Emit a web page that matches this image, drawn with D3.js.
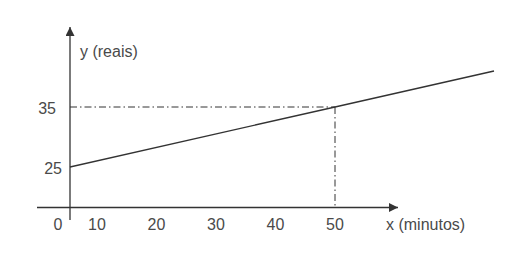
<!DOCTYPE html>
<html>
<head>
<meta charset="utf-8">
<script src="https://cdn.jsdelivr.net/npm/d3@7"></script>
<style>
  body { margin: 0; background: #fff; }
  text { font-family: Arial, "Liberation Sans", sans-serif; fill: #4a4a4a; }
</style>
</head>
<body>
<div id="chart"></div>
<script>
// data
const lineX = [0, 50, 80];          // minutos
const lineY = [25, 35, 41];         // reais
const markX = 50;
const markY = 35;
const xTicks = [10, 20, 30, 40, 50];
const yTicks = [25, 35];
const xTitle = 'x (minutos)';
const yTitle = 'y (reais)';

const width = 529, height = 278;
const ink = '#333';
const fontSize = 16;

const svg = d3.select('#chart').append('svg')
    .attr('width', width)
    .attr('height', height);

// line scale: origin sits on the y axis
let x = d3.scaleLinear().domain([0, 50]).range([70, 335]);
let y = d3.scaleLinear().domain([25, 35]).range([167, 107]);
// tick labels are spaced on their own in the drawing
let xLabel = d3.scaleLinear().domain([10, 50]).range([97, 335]);

const axisY = 207.5;

// arrow head marker
svg.append('defs').append('marker')
    .attr('id', 'arrow')
    .attr('viewBox', '0 0 10 10')
    .attr('refX', 10)
    .attr('refY', 5)
    .attr('markerWidth', 10)
    .attr('markerHeight', 9)
    .attr('markerUnits', 'userSpaceOnUse')
    .attr('orient', 'auto')
  .append('path')
    .attr('d', 'M0,0L10,5L0,10Z')
    .attr('fill', ink);

// x axis
svg.append('line')
    .attr('x1', 37).attr('x2', 398)
    .attr('y1', axisY).attr('y2', axisY)
    .attr('stroke', ink).attr('stroke-width', 1.3)
    .attr('marker-end', 'url(#arrow)');

// y axis
svg.append('line')
    .attr('x1', x(0)).attr('x2', x(0))
    .attr('y1', 220).attr('y2', 27)
    .attr('stroke', ink).attr('stroke-width', 1.3)
    .attr('marker-end', 'url(#arrow)');

// guide lines to the marked point
const dashDot = '7,3,1.5,3';
svg.append('line')
    .attr('x1', x(0)).attr('x2', x(markX))
    .attr('y1', y(markY)).attr('y2', y(markY))
    .attr('stroke', ink).attr('stroke-width', 1)
    .attr('stroke-dasharray', dashDot);
svg.append('line')
    .attr('x1', x(markX)).attr('x2', x(markX))
    .attr('y1', y(markY)).attr('y2', axisY)
    .attr('stroke', ink).attr('stroke-width', 1)
    .attr('stroke-dasharray', dashDot);

// the line itself
const line = d3.line()
    .x((d, i) => x(lineX[i]))
    .y((d, i) => y(lineY[i]));
svg.append('path')
    .datum(lineX)
    .attr('d', line)
    .attr('fill', 'none')
    .attr('stroke', ink)
    .attr('stroke-width', 1.4);

// tick labels
svg.selectAll('.xl')
    .data(xTicks)
    .enter().append('text')
    .attr('x', d => xLabel(d))
    .attr('y', 230)
    .attr('text-anchor', 'middle')
    .attr('font-size', fontSize)
    .text(d => d);

svg.append('text')
    .attr('x', 58).attr('y', 230)
    .attr('text-anchor', 'middle')
    .attr('font-size', fontSize)
    .text('0');

const yLabelRight = { 25: 62, 35: 56 };
svg.selectAll('.yl')
    .data(yTicks)
    .enter().append('text')
    .attr('x', d => yLabelRight[d])
    .attr('y', d => y(d) + 6.5)
    .attr('text-anchor', 'end')
    .attr('font-size', fontSize)
    .text(d => d);

// axis titles
svg.append('text')
    .attr('x', 386).attr('y', 230)
    .attr('font-size', fontSize)
    .text(xTitle);

svg.append('text')
    .attr('x', 80).attr('y', 57)
    .attr('font-size', fontSize)
    .text(yTitle);
</script>
</body>
</html>
